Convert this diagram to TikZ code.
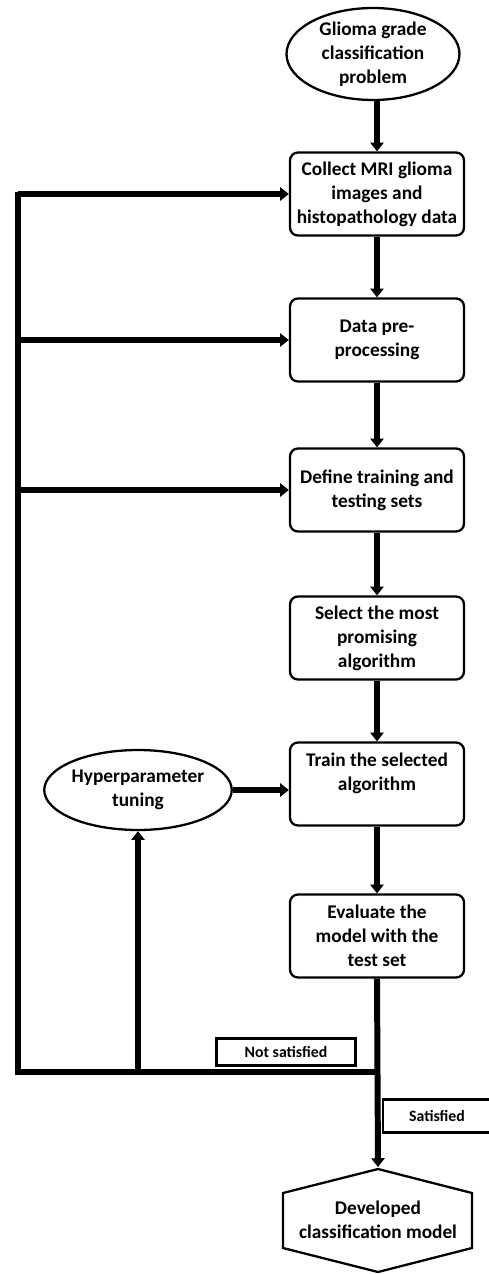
\documentclass[tikz,border=0pt]{standalone}
\usepackage{fontspec}
\setmainfont{Carlito}
\usetikzlibrary{arrows.meta,shapes.geometric}
\begin{document}
\begin{tikzpicture}[x=0.02cm, y=-0.02cm, line width=3.4pt,
  flow/.style={-{Triangle[width=7.5pt,length=5pt]}},
  step box/.style={rectangle,draw,rounded corners=4.5pt,line width=1.3pt,minimum width=3.48cm,minimum height=1.66cm,inner sep=0pt,align=center,font=\fontsize{11}{13.6}\selectfont\bfseries},
  term node/.style={ellipse,draw,line width=1.3pt,inner sep=0pt,align=center,font=\fontsize{11}{13.6}\selectfont\bfseries},
  label box/.style={rectangle,draw,line width=1.6pt,inner sep=0pt,font=\fontsize{9}{10}\selectfont\bfseries}]
\useasboundingbox (0,0) rectangle (488,1274);
\begin{scope}
\node[term node,minimum width=3.46cm,minimum height=1.84cm] (problem) at (373,54) {Glioma grade\\classification\\problem};
\node[step box] (collect) at (377,194) {Collect MRI glioma\\images and\\histopathology data};
\node[step box] (prep) at (377,340) {Data pre-\\processing};
\node[step box] (sets) at (377,490) {Define training and\\testing sets};
\node[step box] (select) at (377,638) {Select the most\\promising\\algorithm};
\node[step box] (train) at (377,784) {Train the selected\\algorithm\\~};
\node[step box] (eval) at (377,936) {Evaluate the\\model with the\\test set};
\node[term node,minimum width=3.6cm,minimum height=1.6cm] (hyper) at (138,790) {Hyperparameter\\tuning};
\node[align=center,inner sep=0pt,font=\fontsize{11}{13.6}\selectfont\bfseries] (model) at (378,1220) {Developed\\classification model};
\node[label box,minimum width=2.78cm,minimum height=0.54cm] (notsat) at (286,1052) {Not satisfied};
\node[label box,minimum width=2.16cm,minimum height=0.66cm] (sat) at (437,1116) {Satisfied};
\end{scope}
\draw[line width=1.3pt] (378,1169) -- (472,1193) -- (472,1248) -- (378,1272) -- (283,1248) -- (283,1193) -- cycle;
\coordinate (modeltop) at (378,1167);
\coordinate (split) at (378,1072);
\coordinate (leftbot) at (18,1072);
\coordinate (lefttop) at (18,192);
\begin{scope}
\draw[flow] (problem.south -| collect) -- (collect.north);
\draw[flow] (collect) edge (prep) (prep) -- (sets);
\draw[flow] (sets.south) -- (select.north);
\draw[flow] (select.south) -- (train.north);
\draw[flow] (train.south) -- (eval.north);
\draw[flow] (eval.south) -- (modeltop);
\draw (split) -- (leftbot) -- (lefttop);
\draw[flow] (leftbot |- collect.west) -- (collect.west);
\draw[flow] (leftbot |- prep.west) -- (prep.west);
\draw[flow] (leftbot |- sets.west) -- (sets.west);
\draw[flow] (hyper.south |- leftbot) -- (hyper.south);
\draw[flow] (hyper.east) -- (hyper.east -| train.west);
\end{scope}
\end{tikzpicture}
\end{document}
